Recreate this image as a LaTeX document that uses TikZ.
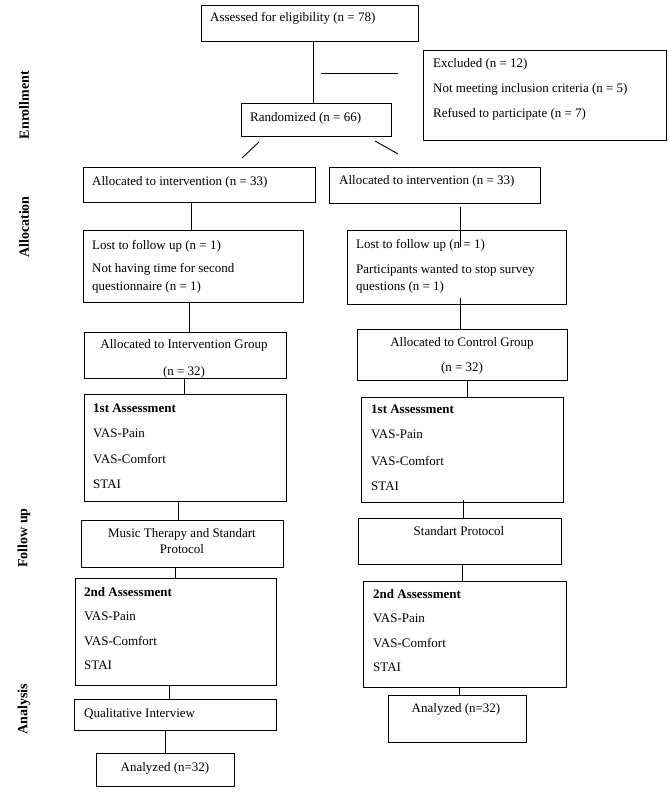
\documentclass[tikz,border=0pt]{standalone}
\usepackage{fontspec}
\setmainfont{Liberation Serif}
\begin{document}
\begin{tikzpicture}[x=1pt,y=-1pt,
  box/.style={draw, line width=0.9pt, inner sep=0pt, outer sep=0pt, anchor=north west},
  txt/.style={anchor=base west, inner sep=0pt},
  ctxt/.style={anchor=base, inner sep=0pt},
  btxt/.style={anchor=base west, inner sep=0pt, font=\fontsize{13}{15}\selectfont\bfseries},
  lbl/.style={rotate=90, inner sep=0pt, font=\fontsize{14}{16}\selectfont\bfseries},
  conn/.style={line width=0.9pt},
  font=\fontsize{13}{15}\selectfont]
\fill[white] (0,0) rectangle (669,794);
\useasboundingbox (0,0) rectangle (669,794);

% side labels
\node[lbl] (lEnr) at (24,105) {Enrollment};
\node[lbl] (lAll) at (24,227) {Allocation};
\node[lbl] (lFol) at (24,538) {Follow up};
\node[lbl] (lAna) at (24,709) {Analysis};

% boxes
\node[box, minimum width=217pt, minimum height=36pt] (assess) at (201,5) {};
\node[box, minimum width=243pt, minimum height=90pt] (excl) at (423,50) {};
\node[box, minimum width=150pt, minimum height=33pt] (rand) at (241,103) {};
\node[box, minimum width=232pt, minimum height=35pt] (allocL) at (83,167) {};
\node[box, minimum width=211pt, minimum height=36pt] (allocR) at (329,167) {};
\node[box, minimum width=220pt, minimum height=72pt] (lostL) at (83,230) {};
\node[box, minimum width=219pt, minimum height=74pt] (lostR) at (347,230) {};
\node[box, minimum width=202pt, minimum height=46pt] (grpL) at (84,332) {};
\node[box, minimum width=210pt, minimum height=51pt] (grpR) at (357,329) {};
\node[box, minimum width=202pt, minimum height=107pt] (a1L) at (84,394) {};
\node[box, minimum width=202pt, minimum height=105pt] (a1R) at (361,397) {};
\node[box, minimum width=202pt, minimum height=47pt] (musL) at (81,520) {};
\node[box, minimum width=203pt, minimum height=46pt] (stdR) at (358,518) {};
\node[box, minimum width=201pt, minimum height=107pt] (a2L) at (75,578) {};
\node[box, minimum width=203pt, minimum height=106pt] (a2R) at (363,581) {};
\node[box, minimum width=202pt, minimum height=31pt] (qualL) at (74,699) {};
\node[box, minimum width=138pt, minimum height=33pt] (anaL) at (96,753) {};
\node[box, minimum width=138pt, minimum height=47pt] (anaR) at (388,695) {};

% texts
\node[txt] (t1) at (210,22) {Assessed for eligibility (n = 78)};
\node[txt] (t2) at (433,67.5) {Excluded (n = 12)};
\node[txt] (t3) at (433,92.5) {Not meeting inclusion criteria (n = 5)};
\node[txt] (t4) at (433,117.5) {Refused to participate (n = 7)};
\node[txt] (t5) at (250,122) {Randomized (n = 66)};
\node[txt] (t6) at (92,186) {Allocated to intervention (n = 33)};
\node[txt] (t7) at (339,185) {Allocated to intervention (n = 33)};
\node[txt] (t8) at (92,249) {Lost to follow up (n = 1)};
\node[txt] (t9) at (92,272) {Not having time for second};
\node[txt] (t10) at (92,290) {questionnaire (n = 1)};
\node[txt] (t11) at (356,248) {Lost to follow up (n = 1)};
\node[txt] (t12) at (356,273) {Participants wanted to stop survey};
\node[txt] (t13) at (356,290) {questions (n = 1)};
\node[ctxt] (t14) at (184,348) {Allocated to Intervention Group};
\node[ctxt] (t15) at (184,375) {(n = 32)};
\node[ctxt] (t16) at (462,346) {Allocated to Control Group};
\node[ctxt] (t17) at (462,371) {(n = 32)};
\node[btxt] (t18) at (93,412) {1st Assessment};
\node[txt] (t19) at (93,437) {VAS-Pain};
\node[txt] (t20) at (93,463) {VAS-Comfort};
\node[txt] (t21) at (93,488) {STAI};
\node[btxt] (t22) at (371,413) {1st Assessment};
\node[txt] (t23) at (371,438) {VAS-Pain};
\node[txt] (t24) at (371,465) {VAS-Comfort};
\node[txt] (t25) at (371,490) {STAI};
\node[ctxt] (t26) at (182,537) {Music Therapy and Standart};
\node[ctxt] (t27) at (182,553) {Protocol};
\node[ctxt] (t28) at (459,535) {Standart Protocol};
\node[btxt] (t29) at (84,596) {2nd Assessment};
\node[txt] (t30) at (84,620) {VAS-Pain};
\node[txt] (t31) at (84,645) {VAS-Comfort};
\node[txt] (t32) at (84,669) {STAI};
\node[btxt] (t33) at (373,598) {2nd Assessment};
\node[txt] (t34) at (373,622) {VAS-Pain};
\node[txt] (t35) at (373,647) {VAS-Comfort};
\node[txt] (t36) at (373,671) {STAI};
\node[txt] (t37) at (84,717) {Qualitative Interview};
\node[ctxt] (t38) at (165,771) {Analyzed (n=32)};
\node[ctxt] (t39) at (456,712) {Analyzed (n=32)};

% free-end coordinates
\coordinate (h1) at (321,73);
\coordinate (h2) at (398,73);
\coordinate (dl1) at (259,142);
\coordinate (dl2) at (242,158);
\coordinate (dr1) at (375,141);
\coordinate (dr2) at (398,154);
\coordinate (r1a) at (460,207);
\coordinate (r1b) at (460,247);
\coordinate (r2a) at (460,298);
\coordinate (r3a) at (463,500);

% connectors
\draw[conn] (assess.south -| 313,0) -- (rand.north -| 313,0);
\draw[conn] (h1) -- (h2);
\draw[conn] (dl1) -- (dl2);
\draw[conn] (dr1) -- (dr2);
\draw[conn] (allocL.south -| 191,0) -- (lostL.north -| 191,0);
\draw[conn] (r1a) -- (r1b);
\draw[conn] (lostL.south -| 189,0) -- (grpL.north -| 189,0);
\draw[conn] (r2a) -- (grpR.north -| r2a);
\draw[conn] (grpL.south -| 184,0) -- (a1L.north -| 184,0);
\draw[conn] (grpR.south -| 467,0) -- (a1R.north -| 467,0);
\draw[conn] (a1L.south -| 178,0) -- (musL.north -| 178,0);
\draw[conn] (r3a) -- (stdR.north -| r3a);
\draw[conn] (musL.south -| 175,0) -- (a2L.north -| 175,0);
\draw[conn] (stdR.south -| 462,0) -- (a2R.north -| 462,0);
\draw[conn] (a2L.south -| 169,0) -- (qualL.north -| 169,0);
\draw[conn] (a2R.south -| 459,0) -- (anaR.north -| 459,0);
\draw[conn] (qualL.south -| 165,0) -- (anaL.north -| 165,0);
\end{tikzpicture}
\end{document}
